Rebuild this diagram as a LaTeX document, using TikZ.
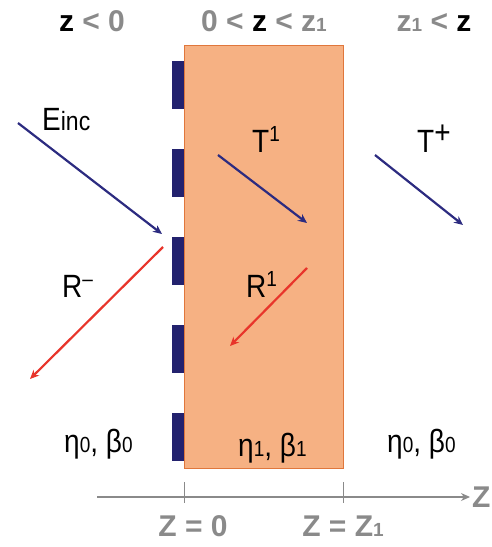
\documentclass[tikz,border=0pt]{standalone}
\usepackage{fontspec,xcolor,tikz}
\setmainfont{Liberation Sans}
\usetikzlibrary{arrows.meta}
\definecolor{slab}{HTML}{F6B183}
\definecolor{slabedge}{HTML}{E0773C}
\definecolor{navy}{HTML}{2C2B80}
\definecolor{grating}{HTML}{23226E}
\definecolor{refl}{HTML}{E8352B}
\definecolor{axisgrey}{HTML}{8A8A8A}
\newcommand{\lbl}{\fontsize{28}{30}\selectfont}
\newcommand{\sml}{\fontsize{19}{20}\selectfont}
\newcommand{\hdr}{\fontsize{30}{32}\selectfont\bfseries}
\newcommand{\zb}{\textcolor{black}{z}}

\begin{document}
\begin{tikzpicture}[x=1pt,y=1pt]
\useasboundingbox (0,0) rectangle (491,547);
\tikzset{
  wave/.style={navy,line width=2.2pt,-{Stealth[length=9pt,width=8pt]}},
  back/.style={refl,line width=2.2pt,-{Stealth[length=9pt,width=8pt]}},
  txt/.style={anchor=base west,inner sep=0,font=\lbl,yscale=1.15,transform shape},
  region/.style={anchor=base,inner sep=0,text=axisgrey,font=\hdr}
}
% slab and grating
\fill[slab,draw=slabedge,line width=1pt] (184,78) rectangle (343,501);
\foreach \i in {0,...,4}
  \fill[grating] (172,{486-88*\i}) rectangle (184,{438-88*\i});
% z axis
\coordinate (axs) at (97,50);
\coordinate (axe) at (470,50);
\draw[axisgrey,line width=1.2pt,-{Stealth[length=9pt,width=8pt]}] (axs) -- (axe);
\draw[axisgrey,line width=1pt] (184,44) -- (184,65);
\draw[axisgrey,line width=1pt] (343,44) -- (343,65);
\node[anchor=west,inner sep=0,text=axisgrey,font=\hdr] (zax) at (472,50) {Z};
\node[region] (zzero) at (193,10) {Z = 0};
\node[region] (zone) at (343,10) {Z = Z\sml1};
% regions
\node[region] (left) at (92,515) {\zb\ < 0};
\node[region] (mid) at (264,515) {0 < \zb\ < z\sml1};
\node[region] (right) at (434,515) {z{\sml1} < \zb};
% waves
\coordinate (einc-s) at (18,424);
\coordinate (einc-e) at (162,313);
\coordinate (tone-s) at (218,392);
\coordinate (tone-e) at (307,324);
\coordinate (tplus-s) at (375,392);
\coordinate (tplus-e) at (463,322);
\coordinate (rminus-s) at (163,300);
\coordinate (rminus-e) at (30,168);
\coordinate (rone-s) at (307,279);
\coordinate (rone-e) at (230,201);
\draw[wave] (einc-s) -- (einc-e);
\draw[wave] (tone-s) -- (tone-e);
\draw[wave] (tplus-s) -- (tplus-e);
\draw[back] (rminus-s) -- (rminus-e);
\draw[back] (rone-s) -- (rone-e);
\node[txt] (einc) at (42,416) {E{\fontsize{23}{24}\selectfont inc}};
\node[txt] (tone) at (252,394) {T\raisebox{10pt}{\sml 1}};
\node[txt] (tplus) at (417,394) {T\raisebox{8pt}{+}};
\node[txt] (rminus) at (62,249) {R\raisebox{10pt}{\sml –}};
\node[txt] (rone) at (246,249) {R\raisebox{10pt}{\sml 1}};
% media
\node[txt] (medl) at (64,94) {η{\sml 0}, β{\sml 0}};
\node[txt] (meds) at (238,90) {η{\sml 1}, β{\sml 1}};
\node[txt] (medr) at (387,94) {η{\sml 0}, β{\sml 0}};
\end{tikzpicture}
\end{document}
